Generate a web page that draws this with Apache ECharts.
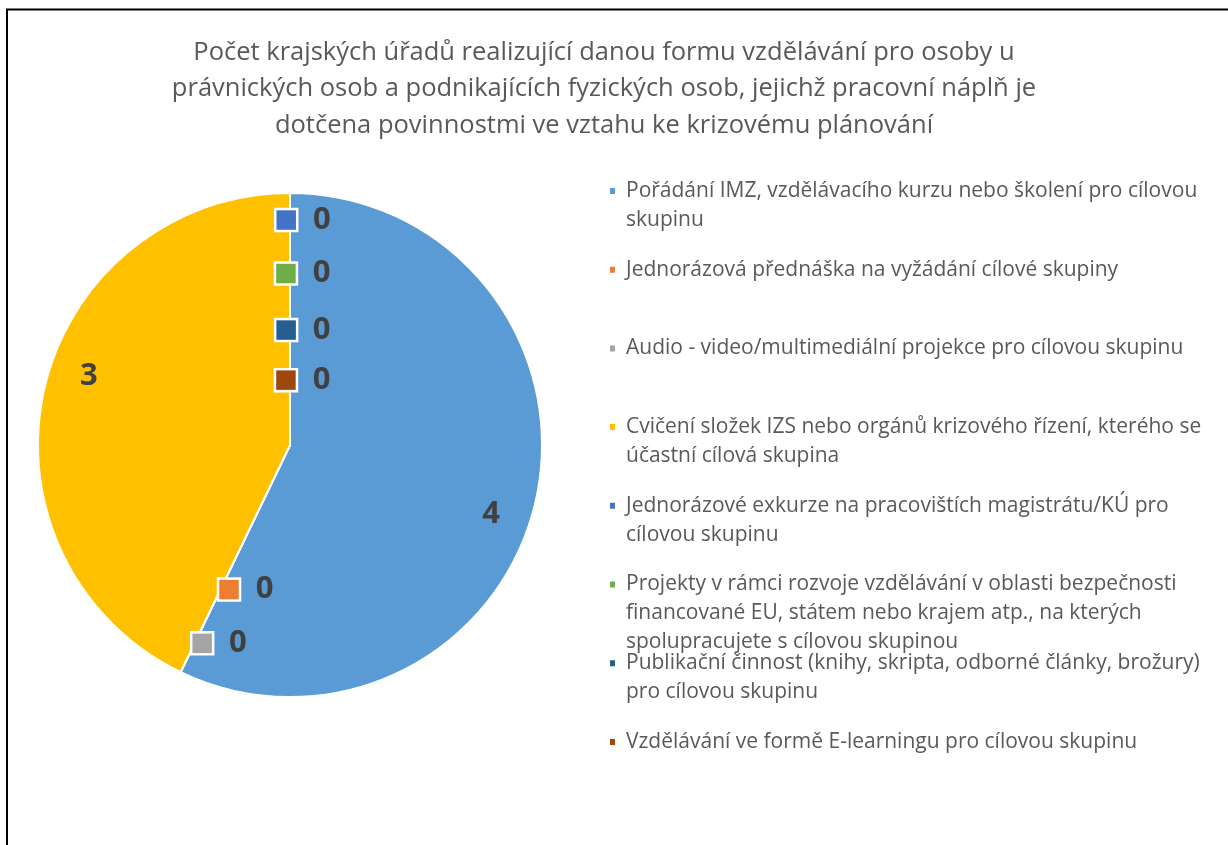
<!DOCTYPE html>
<html>
<head>
<meta charset="utf-8">
<style>
  html, body { margin: 0; padding: 0; background: #fff; }
  #chart { width: 1228px; height: 845px; }
</style>
<script src="https://cdn.jsdelivr.net/npm/echarts@6/dist/echarts.min.js"></script>
</head>
<body>
<div id="chart"></div>
<script>
var titleLines = [
    'Počet krajských úřadů realizující danou formu vzdělávání pro osoby u',
    'právnických osob a podnikajících fyzických osob, jejichž pracovní náplň je',
    'dotčena povinnostmi ve vztahu ke krizovému plánování'
];

var names = [
    'Pořádání IMZ, vzdělávacího kurzu nebo školení pro cílovou skupinu',
    'Jednorázová přednáška na vyžádání cílové skupiny',
    'Audio - video/multimediální projekce pro cílovou skupinu',
    'Cvičení složek IZS nebo orgánů krizového řízení, kterého se účastní cílová skupina',
    'Jednorázové exkurze na pracovištích magistrátu/KÚ pro cílovou skupinu',
    'Projekty v rámci rozvoje vzdělávání v oblasti bezpečnosti financované EU, státem nebo krajem atp., na kterých spolupracujete s cílovou skupinou',
    'Publikační činnost (knihy, skripta, odborné články, brožury) pro cílovou skupinu',
    'Vzdělávání ve formě E-learningu pro cílovou skupinu'
];

var values = [4, 0, 0, 3, 0, 0, 0, 0];

var colors = ['#5B9BD5', '#ED7D31', '#A5A5A5', '#FFC000', '#4472C4', '#70AD47', '#255E91', '#9E480E'];

// legend text as it wraps in the original
var legendLines = [
    ['Pořádání IMZ, vzdělávacího kurzu nebo školení pro cílovou', 'skupinu'],
    ['Jednorázová přednáška na vyžádání cílové skupiny'],
    ['Audio - video/multimediální projekce pro cílovou skupinu'],
    ['Cvičení složek IZS nebo orgánů krizového řízení, kterého se', 'účastní cílová skupina'],
    ['Jednorázové exkurze na pracovištích magistrátu/KÚ pro', 'cílovou skupinu'],
    ['Projekty v rámci rozvoje vzdělávání v oblasti bezpečnosti', 'financované EU, státem nebo krajem atp., na kterých', 'spolupracujete s cílovou skupinou'],
    ['Publikační činnost (knihy, skripta, odborné články, brožury)', 'pro cílovou skupinu'],
    ['Vzdělávání ve formě E-learningu pro cílovou skupinu']
];

var FONT = '"Open Sans", Lato, sans-serif';
var CENTER = [290, 445];
var RADIUS = 252;
var LH = 28.8;

// where each label sits: ring radius and start angle of an invisible pie
var labelRings = [
    {items: [0, 3], r: 209.5, start: 84},
    {items: [4], r: 222, start: 91},
    {items: [5], r: 168.5, start: 91.4},
    {items: [6], r: 112, start: 92},
    {items: [7], r: 62, start: 93.7},
    {items: [1], r: 154, start: 92.8},
    {items: [2], r: 214, start: 91.8}
];

var pieData = names.map(function (name, i) {
    return {name: name, value: values[i]};
});

function labelSeries(ring) {
    var first = ring.items[0];
    var isZero = values[first] === 0;
    return {
        type: 'pie',
        silent: true,
        animation: false,
        center: CENTER,
        radius: [ring.r - 20, ring.r + 20],
        startAngle: ring.start,
        clockwise: true,
        avoidLabelOverlap: false,
        itemStyle: {color: 'rgba(0,0,0,0)', borderWidth: 0},
        emphasis: {disabled: true},
        labelLine: {show: false},
        label: {
            show: true,
            position: 'inside',
            padding: isZero ? [0, 0, 0, 35] : 0,
            formatter(p) {
                if (ring.items.indexOf(p.dataIndex) < 0) {
                    return '';
                }
                return isZero ? '{sq|}{v|' + p.value + '}' : '{v|' + p.value + '}';
            },
            rich: {
                sq: {
                    width: 19.5,
                    height: 19.5,
                    backgroundColor: colors[first],
                    borderColor: '#fff',
                    borderWidth: 2.5
                },
                v: {
                    fontFamily: FONT,
                    fontSize: 31,
                    fontWeight: 'bold',
                    color: '#404040',
                    padding: isZero ? [0, 0, 0, 17] : 0
                }
            }
        },
        data: pieData
    };
}

// one legend per item so every entry keeps its own slot; blank lines on top
// keep the icon level with the first text line
var legends = names.map(function (name, i) {
    var n = legendLines[i].length;
    return {
        data: [name],
        orient: 'vertical',
        left: 608,
        top: 191 + i * 78.7 - LH / 2 - (n - 1) * LH,
        padding: 0,
        icon: 'rect',
        itemWidth: 7,
        itemHeight: 8,
        selectedMode: false,
        formatter() {
            return new Array(n).join('\n') + legendLines[i].join('\n');
        },
        textStyle: {
            fontFamily: FONT,
            fontSize: 21,
            lineHeight: LH,
            color: '#595959',
            padding: [0, 0, 0, 5]
        }
    };
});

var chart = echarts.init(document.getElementById('chart'));
chart.setOption({
    animation: false,
    title: {
        text: titleLines.join('\n'),
        left: 604,
        top: 34,
        textAlign: 'center',
        padding: 0,
        textStyle: {
            fontFamily: FONT,
            fontSize: 25.5,
            fontWeight: 'normal',
            color: '#595959',
            lineHeight: 36.5
        }
    },
    legend: legends,
    graphic: [{
        type: 'rect',
        silent: true,
        shape: {x: 7, y: 9.5, width: 1400, height: 1000},
        style: {fill: 'none', stroke: '#000', lineWidth: 2}
    }],
    series: [{
        type: 'pie',
        center: CENTER,
        radius: RADIUS,
        startAngle: 90,
        clockwise: true,
        color: colors,
        itemStyle: {borderColor: '#fff', borderWidth: 2},
        label: {show: false},
        labelLine: {show: false},
        emphasis: {disabled: true},
        data: pieData
    }].concat(labelRings.map(labelSeries))
});
</script>
</body>
</html>
